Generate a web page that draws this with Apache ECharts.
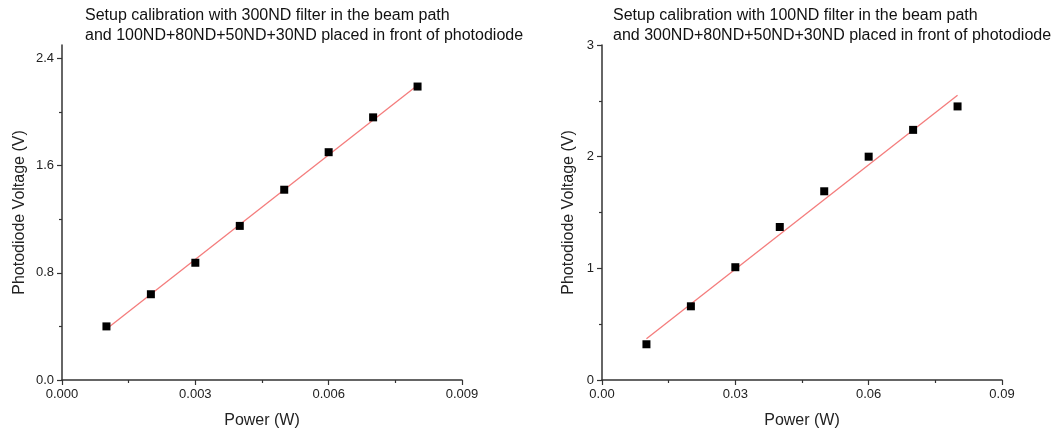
<!DOCTYPE html>
<html>
<head>
<meta charset="utf-8">
<script src="https://cdn.jsdelivr.net/npm/echarts@6/dist/echarts.min.js"></script>
<style>
html,body{margin:0;padding:0;background:#fff;}
#c{width:1060px;height:437px;}
</style>
</head>
<body>
<div id="c"></div>
<script>
// Left panel data
const leftPower = [0.001, 0.002, 0.003, 0.004, 0.005, 0.006, 0.007, 0.008];
const leftVoltage = [0.40, 0.64, 0.875, 1.15, 1.42, 1.70, 1.96, 2.19];
const leftFitPower = [0.001, 0.008];
const leftFitVoltage = [0.38, 2.20];
const leftTitle = 'Setup calibration with 300ND filter in the beam path\nand 100ND+80ND+50ND+30ND placed in front of photodiode';
const leftYTicks = [0, 0.8, 1.6, 2.4];
const leftYMinor = [0.4, 1.2, 2.0];

// Right panel data
const rightPower = [0.01, 0.02, 0.03, 0.04, 0.05, 0.06, 0.07, 0.08];
const rightVoltage = [0.32, 0.66, 1.01, 1.37, 1.69, 2.00, 2.24, 2.45];
const rightFitPower = [0.01, 0.08];
const rightFitVoltage = [0.37, 2.55];
const rightTitle = 'Setup calibration with 100ND filter in the beam path\nand 300ND+80ND+50ND+30ND placed in front of photodiode';

const xName = 'Power (W)';
const yName = 'Photodiode Voltage (V)';

const FONT = 'Liberation Sans, Arial, sans-serif';
const AX = '#333';
const pairs = (xs, ys) => xs.map((x, i) => [x, ys[i]]);

const axisLineStyle = {show: true, lineStyle: {color: AX, width: 1.5}};
const labelStyle = {color: '#222', fontSize: 13, fontFamily: FONT, margin: 8};
const nameStyle = {color: '#222', fontSize: 16, fontFamily: FONT};
const titleStyle = {fontSize: 16, fontWeight: 'normal', color: '#111', fontFamily: FONT, lineHeight: 20};

function xAxis(grid, max, interval, digits) {
  return {
    type: 'value', gridIndex: grid, min: 0, max: max, interval: interval,
    name: xName, nameLocation: 'middle', nameGap: 33, nameTextStyle: nameStyle,
    axisLine: axisLineStyle,
    axisTick: {show: true, length: 5, lineStyle: {color: AX, width: 1.2}},
    minorTick: {show: true, splitNumber: 2, length: 3, lineStyle: {color: AX, width: 1.2}},
    splitLine: {show: false},
    axisLabel: Object.assign({}, labelStyle, {formatter: v => v.toFixed(digits)})
  };
}

const chart = echarts.init(document.getElementById('c'), null, {renderer: 'canvas'});
chart.setOption({
  animation: false,
  backgroundColor: '#fff',
  title: [
    {text: leftTitle, left: 85, top: 6, padding: 0, textStyle: titleStyle},
    {text: rightTitle, left: 613, top: 6, padding: 0, textStyle: titleStyle}
  ],
  grid: [
    {left: 62, top: 45, width: 400, bottom: 57},
    {left: 602, top: 45, width: 400, bottom: 57}
  ],
  xAxis: [
    xAxis(0, 0.009, 0.003, 3),
    xAxis(1, 0.09, 0.03, 2)
  ],
  yAxis: [
    {
      type: 'value', gridIndex: 0, min: 0, max: 2.5, interval: 0.8,
      name: yName, nameLocation: 'middle', nameGap: 34, nameTextStyle: nameStyle,
      axisLine: axisLineStyle,
      axisTick: {show: true, length: 5, customValues: leftYTicks, lineStyle: {color: AX, width: 1.2}},
      splitLine: {show: false},
      axisLabel: Object.assign({}, labelStyle, {customValues: leftYTicks, formatter: v => v.toFixed(1)})
    },
    {
      type: 'value', gridIndex: 0, min: 0, max: 2.5, position: 'left',
      axisLine: {show: false},
      axisTick: {show: true, length: 3, customValues: leftYMinor, lineStyle: {color: AX, width: 1.2}},
      axisLabel: {show: false},
      splitLine: {show: false}
    },
    {
      type: 'value', gridIndex: 1, min: 0, max: 3, interval: 1,
      name: yName, nameLocation: 'middle', nameGap: 25, nameTextStyle: nameStyle,
      axisLine: axisLineStyle,
      axisTick: {show: true, length: 5, lineStyle: {color: AX, width: 1.2}},
      minorTick: {show: true, splitNumber: 2, length: 3, lineStyle: {color: AX, width: 1.2}},
      splitLine: {show: false},
      axisLabel: Object.assign({}, labelStyle, {formatter: v => String(v)})
    }
  ],
  series: [
    {type: 'line', xAxisIndex: 0, yAxisIndex: 0, data: pairs(leftFitPower, leftFitVoltage), showSymbol: false, lineStyle: {color: '#f47c7c', width: 1.3}, z: 2},
    {type: 'scatter', xAxisIndex: 0, yAxisIndex: 0, data: pairs(leftPower, leftVoltage), symbol: 'rect', symbolSize: 8, itemStyle: {color: '#000', opacity: 1}, z: 3},
    {type: 'line', xAxisIndex: 1, yAxisIndex: 2, data: pairs(rightFitPower, rightFitVoltage), showSymbol: false, lineStyle: {color: '#f47c7c', width: 1.3}, z: 2},
    {type: 'scatter', xAxisIndex: 1, yAxisIndex: 2, data: pairs(rightPower, rightVoltage), symbol: 'rect', symbolSize: 8, itemStyle: {color: '#000', opacity: 1}, z: 3}
  ]
});
</script>
</body>
</html>
